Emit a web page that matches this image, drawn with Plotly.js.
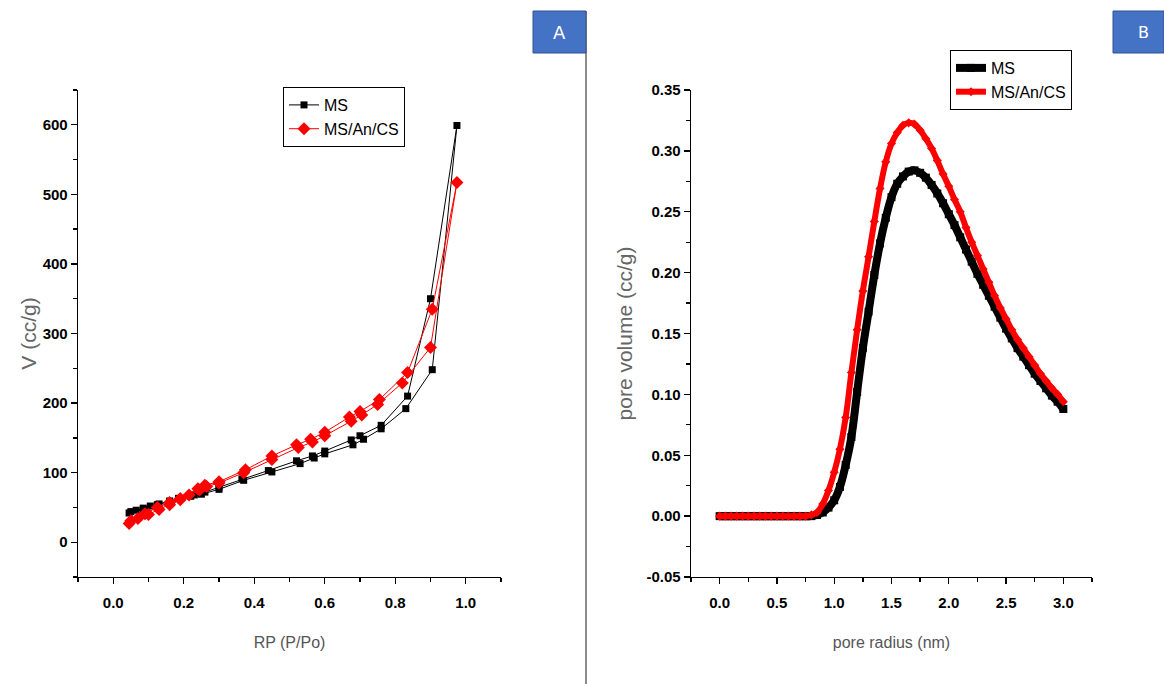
<!DOCTYPE html>
<html>
<head>
<meta charset="utf-8">
<script src="https://cdn.plot.ly/plotly-3.0.1.min.js"></script>
<style>html,body{margin:0;padding:0;background:#fff;}#chart{width:1164px;height:684px;}</style>
</head>
<body>
<div id="chart"></div>
<script>
// Panel A: N2 adsorption–desorption isotherm
const msRelP  = [0.045,0.065,0.085,0.105,0.13,0.16,0.19,0.22,0.25,0.30,0.37,0.45,0.53,0.57,0.60,0.68,0.71,0.76,0.83,0.905,0.975,
                 0.90,0.835,0.76,0.70,0.675,0.60,0.565,0.52,0.44,0.365,0.30,0.26,0.23,0.185,0.16,0.125,0.085,0.05];
const msVol   = [42,46,49,52,55,59,63,66,69,76,89,101,113,121,127,140,148,163,192,248,599,
                 350,210,168,153,147,131,124,117,103,91,79,72,68,63,59,54,47,44];
const msaRelP = [0.045,0.07,0.10,0.13,0.16,0.19,0.215,0.245,0.265,0.30,0.37,0.45,0.525,0.565,0.60,0.675,0.705,0.75,0.82,0.90,0.975,
                 0.905,0.835,0.755,0.70,0.67,0.60,0.56,0.52,0.45,0.375,0.30,0.26,0.24,0.19,0.16,0.125,0.09,0.05];
const msaVol  = [27,34,40,47,54,61,68,75,80,85,100,119,136,144,153,174,183,198,229,280,517,
                 335,244,205,188,180,158,148,140,124,104,87,82,77,63,57,50,41,31];

// Panel B: pore size distribution
const radius = [0.00,0.05,0.10,0.15,0.20,0.25,0.30,0.35,0.40,0.45,0.50,0.55,0.60,0.65,0.70,0.75,0.80,0.85,0.90,0.95,
                1.00,1.05,1.10,1.15,1.20,1.25,1.30,1.35,1.40,1.45,1.50,1.55,1.60,1.65,1.70,1.75,1.80,1.85,1.90,1.95,
                2.00,2.05,2.10,2.15,2.20,2.25,2.30,2.35,2.40,2.45,2.50,2.55,2.60,2.65,2.70,2.75,2.80,2.85,2.90,2.95,3.00];
const msPore  = [0,0,0,0,0,0,0,0,0,0,0,0,0,0,0,0,0,0.001,0.003,0.007,
                 0.013,0.024,0.042,0.065,0.102,0.138,0.168,0.198,0.224,0.245,0.262,0.273,0.279,0.283,0.284,0.282,0.278,0.272,0.265,0.257,
                 0.248,0.239,0.229,0.219,0.209,0.199,0.190,0.181,0.172,0.163,0.154,0.146,0.138,0.131,0.124,0.117,0.111,0.105,0.099,0.094,0.088];
const msaPore = [0,0,0,0,0,0,0,0,0,0,0,0,0,0,0,0,0.001,0.003,0.010,0.021,
                 0.036,0.055,0.081,0.118,0.153,0.185,0.213,0.242,0.269,0.291,0.306,0.315,0.321,0.323,0.322,0.317,0.310,0.302,0.292,0.281,
                 0.271,0.260,0.250,0.237,0.225,0.214,0.203,0.192,0.181,0.171,0.162,0.153,0.145,0.138,0.131,0.124,0.117,0.111,0.105,0.100,0.094];

const seriesNames = ['MS', 'MS/An/CS'];
const bYTicks = [-0.05,0.00,0.05,0.10,0.15,0.20,0.25,0.30,0.35];
const bYTickText = ['-0.05','0.00','0.05','0.10','0.15','0.20','0.25','0.30','0.35'];

const FONT = 'Liberation Sans, Arial, sans-serif';

const traces = [
  {x: msRelP, y: msVol, name: seriesNames[0], xaxis: 'x', yaxis: 'y', legend: 'legend',
   mode: 'lines+markers', line: {color: '#000', width: 1}, marker: {symbol: 'square', size: 7, color: '#000'}},
  {x: msaRelP, y: msaVol, name: seriesNames[1], xaxis: 'x', yaxis: 'y', legend: 'legend',
   mode: 'lines+markers', line: {color: '#ff0000', width: 1}, marker: {symbol: 'diamond', size: 10, color: '#ff0000'}},
  {x: radius, y: msPore, name: seriesNames[0], xaxis: 'x2', yaxis: 'y2', legend: 'legend2',
   mode: 'lines+markers', line: {color: '#000', width: 8, shape: 'spline'}, marker: {symbol: 'square', size: 8, color: '#000'}},
  {x: radius, y: msaPore, name: seriesNames[1], xaxis: 'x2', yaxis: 'y2', legend: 'legend2',
   mode: 'lines+markers', line: {color: '#ff0000', width: 6, shape: 'spline'}, marker: {symbol: 'diamond', size: 7, color: '#ff0000'}}
];

const axBase = {
  showline: true, linecolor: '#000', linewidth: 1.3, mirror: false,
  ticks: 'outside', ticklen: 6, tickwidth: 1.3, tickcolor: '#000',
  showgrid: false, zeroline: false, fixedrange: true,
  tickfont: {family: FONT, size: 15, color: '#000', weight: 'bold'}
};
const xTitleFont = {family: FONT, size: 16, color: '#555'};
const yTitleFont = {family: FONT, size: 21, color: '#666'};

const layout = {
  width: 1164, height: 684,
  margin: {l: 0, r: 0, t: 0, b: 0},
  paper_bgcolor: '#fff', plot_bgcolor: '#fff',
  font: {family: FONT, color: '#000'},
  showlegend: true,
  xaxis: Object.assign({}, axBase, {
    domain: [78/1164, 501/1164], anchor: 'y', range: [-0.1, 1.1],
    tick0: 0, dtick: 0.2, tickformat: '.1f', ticklabelstandoff: 6,
    minor: {ticks: 'outside', ticklen: 4, tickwidth: 1.3, tickcolor: '#000', dtick: 0.1, tick0: 0},
    title: {text: 'RP (P/Po)', font: xTitleFont, standoff: 26}
  }),
  yaxis: Object.assign({}, axBase, {
    domain: [(684-577)/684, (684-90)/684], anchor: 'x', range: [-50, 650],
    tick0: 0, dtick: 100,
    minor: {ticks: 'outside', ticklen: 4, tickwidth: 1.3, tickcolor: '#000', dtick: 50, tick0: 0},
    title: {text: 'V (cc/g)', font: yTitleFont, standoff: 0}
  }),
  xaxis2: Object.assign({}, axBase, {
    domain: [691/1164, 1092/1164], anchor: 'y2', range: [-0.25, 3.25],
    tick0: 0, dtick: 0.5, tickformat: '.1f', ticklabelstandoff: 6,
    minor: {ticks: 'outside', ticklen: 4, tickwidth: 1.3, tickcolor: '#000', dtick: 0.25, tick0: 0},
    title: {text: 'pore radius (nm)', font: xTitleFont, standoff: 26}
  }),
  yaxis2: Object.assign({}, axBase, {
    domain: [(684-577)/684, (684-90)/684], anchor: 'x2', range: [-0.05, 0.35],
    tickmode: 'array', tickvals: bYTicks, ticktext: bYTickText,
    minor: {ticks: 'outside', ticklen: 4, tickwidth: 1.3, tickcolor: '#000', tickmode: 'linear', dtick: 0.025, tick0: 0},
    title: {text: 'pore volume (cc/g)', font: yTitleFont, standoff: 8}
  }),
  legend: {x: 283/1164, y: (684-87)/684, xanchor: 'left', yanchor: 'top',
           bordercolor: '#000', borderwidth: 1, bgcolor: '#fff',
           font: {family: FONT, size: 16, color: '#000'}, tracegroupgap: 0},
  legend2: {x: 950/1164, y: (684-50)/684, xanchor: 'left', yanchor: 'top',
           bordercolor: '#000', borderwidth: 1, bgcolor: '#fff',
           font: {family: FONT, size: 16, color: '#000'}, tracegroupgap: 0},
  shapes: [
    {type: 'line', xref: 'paper', yref: 'paper', x0: 586/1164, x1: 586/1164, y0: 0, y1: (684-11)/684,
     line: {color: '#8c8c8c', width: 2}},
    {type: 'rect', xref: 'paper', yref: 'paper', x0: 533/1164, x1: 586/1164, y0: (684-53)/684, y1: (684-11)/684,
     fillcolor: '#4472C4', line: {color: '#2F528F', width: 1}},
    {type: 'rect', xref: 'paper', yref: 'paper', x0: 1113/1164, x1: 1164/1164, y0: (684-53)/684, y1: (684-11)/684,
     fillcolor: '#4472C4', line: {color: '#2F528F', width: 1}}
  ],
  annotations: [
    {text: 'A', xref: 'paper', yref: 'paper', x: 559.5/1164, y: (684-32)/684, showarrow: false,
     xanchor: 'center', yanchor: 'middle',
     font: {family: 'DejaVu Sans, sans-serif', size: 18, color: '#fff'}},
    {text: 'B', xref: 'paper', yref: 'paper', x: 1143/1164, y: (684-32)/684, showarrow: false,
     xanchor: 'center', yanchor: 'middle',
     font: {family: 'DejaVu Sans, sans-serif', size: 16, color: '#fff'}}
  ]
};

Plotly.newPlot('chart', traces, layout, {displayModeBar: false, staticPlot: true});
</script>
</body>
</html>
